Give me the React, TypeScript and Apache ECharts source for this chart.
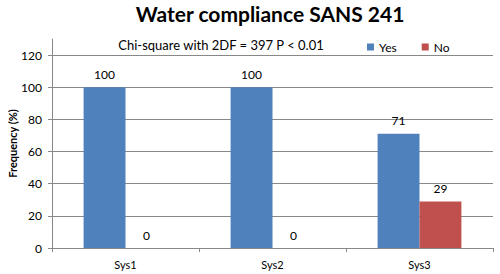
import React, { useEffect, useRef } from "react";
import * as echarts from "echarts";

const categories = ["Sys1", "Sys2", "Sys3"];
const yesValues = [100, 100, 71];
const noValues = [0, 0, 29];
const seriesNames = ["Yes", "No"];
const titleText = "Water compliance SANS 241";
const subtitleText = "Chi-square with 2DF = 397 P < 0.01";
const yAxisName = "Frequency (%)";

const FONT = "Lato, 'Open Sans', sans-serif";

export default function App() {
  const ref = useRef<HTMLDivElement>(null);
  useEffect(() => {
    if (!ref.current) return;
    document.body.style.margin = "0";
    const chart = echarts.init(ref.current, undefined, { renderer: "svg" });
    const labelStyle = {
      show: true,
      position: "top" as const,
      distance: 7,
      color: "#000",
      fontSize: 12,
      fontFamily: FONT,
    };
    chart.setOption({
      animation: false,
      backgroundColor: "#fff",
      textStyle: { fontFamily: FONT },
      title: [
        {
          text: titleText,
          left: 270,
          top: 3,
          padding: 0,
          textAlign: "center",
          textStyle: { fontSize: 21, fontWeight: "bold", color: "#000", fontFamily: FONT },
        },
        {
          text: subtitleText,
          left: 221,
          top: 38,
          padding: 0,
          textAlign: "center",
          textStyle: { fontSize: 13, fontWeight: "normal", color: "#000", fontFamily: FONT },
        },
      ],
      legend: {
        data: seriesNames,
        left: 367,
        top: 41,
        padding: 0,
        itemWidth: 7,
        itemHeight: 7,
        itemGap: 25,
        icon: "rect",
        textStyle: { fontSize: 12, color: "#000", fontFamily: FONT },
      },
      grid: { left: 52, right: 7, top: 39, bottom: 26, containLabel: false, outerBoundsMode: "none" },
      xAxis: {
        type: "category",
        data: categories,
        boundaryGap: true,
        axisLine: { lineStyle: { color: "#888" } },
        axisTick: { show: true, alignWithLabel: false, length: 4, lineStyle: { color: "#888" } },
        axisLabel: { color: "#000", fontSize: 11, fontFamily: FONT, margin: 11 },
      },
      yAxis: {
        type: "value",
        min: 0,
        max: 130,
        interval: 20,
        name: yAxisName,
        nameLocation: "middle",
        nameGap: 34,
        nameMoveOverlap: false,
        nameTextStyle: { fontSize: 11, fontWeight: "bold", color: "#000", fontFamily: FONT },
        axisLine: { show: true, lineStyle: { color: "#888" } },
        axisTick: { show: true, length: 4, lineStyle: { color: "#888" } },
        axisLabel: { color: "#000", fontSize: 12, fontFamily: FONT, margin: 10, showMaxLabel: false },
        splitLine: { show: true, showMaxLine: false, lineStyle: { color: "#888", width: 1 } },
      },
      series: [
        {
          name: seriesNames[0],
          type: "bar",
          data: yesValues,
          itemStyle: { color: "#4F81BD" },
          barGap: "0%",
          barCategoryGap: "43%",
          label: labelStyle,
        },
        {
          name: seriesNames[1],
          type: "bar",
          data: noValues,
          itemStyle: { color: "#C0504D" },
          label: labelStyle,
        },
      ],
    });
    return () => chart.dispose();
  }, []);
  return <div ref={ref} style={{ width: 500, height: 274 }} />;
}
